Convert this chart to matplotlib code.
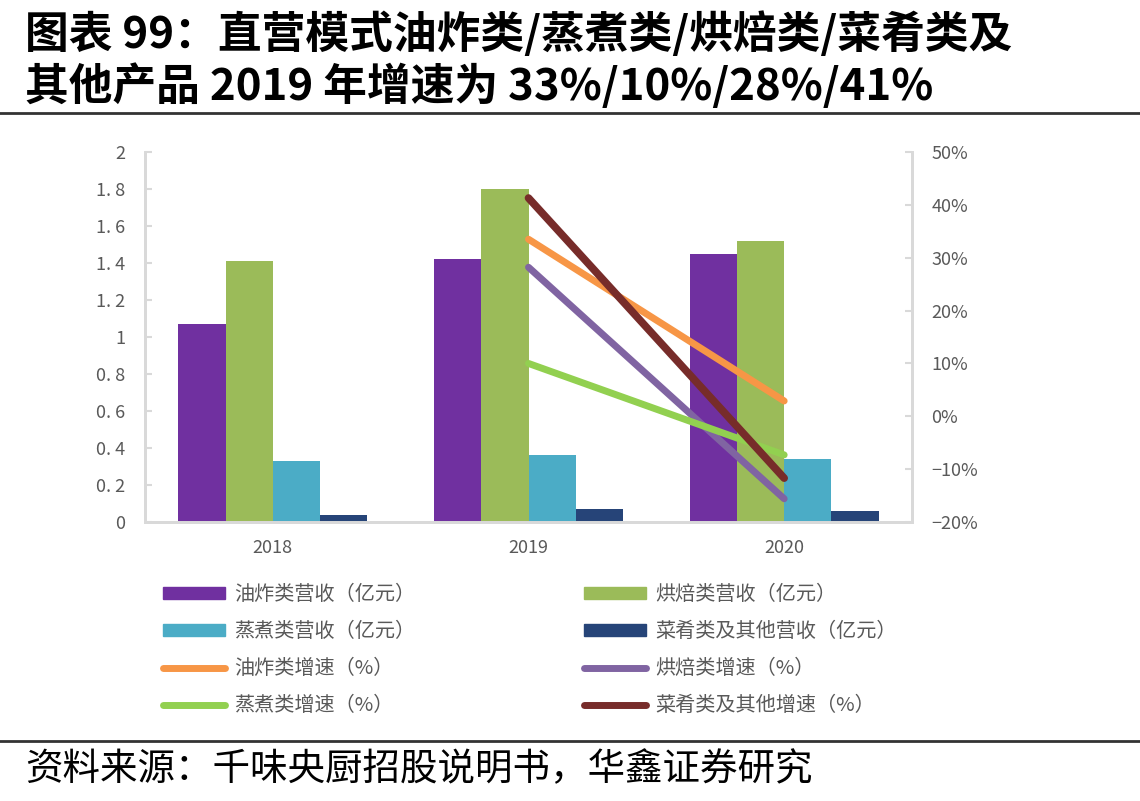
import numpy as np
import matplotlib
matplotlib.use('Agg')
from matplotlib import pyplot as plt
from matplotlib.lines import Line2D
from matplotlib.patches import Patch

plt.rcParams['font.family'] = ['Noto Sans CJK SC', 'DejaVu Sans']
plt.rcParams['axes.unicode_minus'] = True

# data
years = ['2018', '2019', '2020']
fried_rev = [1.07, 1.42, 1.45]
bake_rev = [1.41, 1.80, 1.52]
steam_rev = [0.33, 0.36, 0.34]
dish_rev = [0.04, 0.07, 0.06]

growth_years = ['2019', '2020']
fried_gr = [33.5, 2.9]
bake_gr = [28.2, -15.6]
steam_gr = [10.0, -7.3]
dish_gr = [41.3, -11.7]

c_purple = '#7030A0'
c_green = '#9BBB59'
c_cyan = '#4BACC6'
c_navy = '#264478'
c_orange = '#F79646'
c_lav = '#8064A2'
c_lgreen = '#92D050'
c_red = '#772C2A'
grey = '#595959'
spine_grey = '#D9D9D9'

fig = plt.figure(figsize=(11.4, 8.01), dpi=100)
ax = fig.add_axes([0.1272, 0.3483, 0.6728, 0.4619])
ax2 = ax.twinx()

x = np.arange(len(years))
w = 0.185
ax.bar(x - 1.5 * w, fried_rev, w, color=c_purple, zorder=2)
ax.bar(x - 0.5 * w, bake_rev, w, color=c_green, zorder=2)
ax.bar(x + 0.5 * w, steam_rev, w, color=c_cyan, zorder=2)
ax.bar(x + 1.5 * w, dish_rev, w, color=c_navy, zorder=2)

gx = [years.index(y) for y in growth_years]
ax2.plot(gx, fried_gr, color=c_orange, lw=5, solid_capstyle='round')
ax2.plot(gx, bake_gr, color=c_lav, lw=5, solid_capstyle='round')
ax2.plot(gx, steam_gr, color=c_lgreen, lw=5, solid_capstyle='round')
ax2.plot(gx, dish_gr, color=c_red, lw=5.5, solid_capstyle='round')

ax.set_xlim(-0.5, 2.5)
ax.set_ylim(0, 2)
ax2.set_ylim(-20, 50)

left_ticks = [0, 0.2, 0.4, 0.6, 0.8, 1, 1.2, 1.4, 1.6, 1.8, 2]
ax.set_yticks(left_ticks)
ax.set_yticklabels(['0', '0. 2', '0. 4', '0. 6', '0. 8', '1', '1. 2', '1. 4', '1. 6', '1. 8', '2'])
right_ticks = [-20, -10, 0, 10, 20, 30, 40, 50]
ax2.set_yticks(right_ticks)
ax2.set_yticklabels(['\u221220%', '\u221210%', '0%', '10%', '20%', '30%', '40%', '50%'])
ax.set_xticks(x)
ax.set_xticklabels(years)

for a in (ax, ax2):
    for s in a.spines.values():
        s.set_color(spine_grey)
        s.set_linewidth(2)
    a.spines['top'].set_visible(False)
ax.tick_params(axis='y', direction='in', length=5, width=1.5, color=spine_grey,
               labelsize=13, labelcolor=grey, pad=14)
ax2.tick_params(axis='y', direction='in', length=5, width=1.5, color=spine_grey,
                labelsize=13, labelcolor=grey, pad=14)
ax.tick_params(axis='x', length=0, labelsize=13, labelcolor=grey, pad=12)

# legend
handles = [
    Patch(color=c_purple), Patch(color=c_cyan),
    Line2D([], [], color=c_orange, lw=5, solid_capstyle='round'),
    Line2D([], [], color=c_lgreen, lw=5, solid_capstyle='round'),
    Patch(color=c_green), Patch(color=c_navy),
    Line2D([], [], color=c_lav, lw=5, solid_capstyle='round'),
    Line2D([], [], color=c_red, lw=5, solid_capstyle='round'),
]
labels = ['油炸类营收（亿元）', '蒸煮类营收（亿元）', '油炸类增速（%）', '蒸煮类增速（%）',
          '烘焙类营收（亿元）', '菜肴类及其他营收（亿元）', '烘焙类增速（%）', '菜肴类及其他增速（%）']
leg = fig.legend(handles, labels, ncol=2, loc='upper left', bbox_to_anchor=(0.143, 0.271),
                 frameon=False, fontsize=14.5, handlelength=3.1, handleheight=0.5,
                 handletextpad=0.45, columnspacing=8.35, labelspacing=0.8,
                 borderpad=0, borderaxespad=0)
for t in leg.get_texts():
    t.set_color(grey)

# title and source
fig.text(0.022, 0.957, '图表 99：直营模式油炸类/蒸煮类/烘焙类/菜肴类及', fontsize=31.5,
         fontweight='bold', va='center', ha='left')
fig.text(0.022, 0.893, '其他产品 2019 年增速为 33%/10%/28%/41%', fontsize=31.5,
         fontweight='bold', va='center', ha='left')
fig.add_artist(Line2D([0, 1], [1 - 113 / 801, 1 - 113 / 801], color='#333333', lw=2))
fig.add_artist(Line2D([0, 1], [1 - 741 / 801, 1 - 741 / 801], color='#333333', lw=2))
fig.text(0.022, 1 - 770 / 801, '资料来源：千味央厨招股说明书，华鑫证券研究', fontsize=27,
         va='center', ha='left')

fig.savefig('out.png', dpi=100)
